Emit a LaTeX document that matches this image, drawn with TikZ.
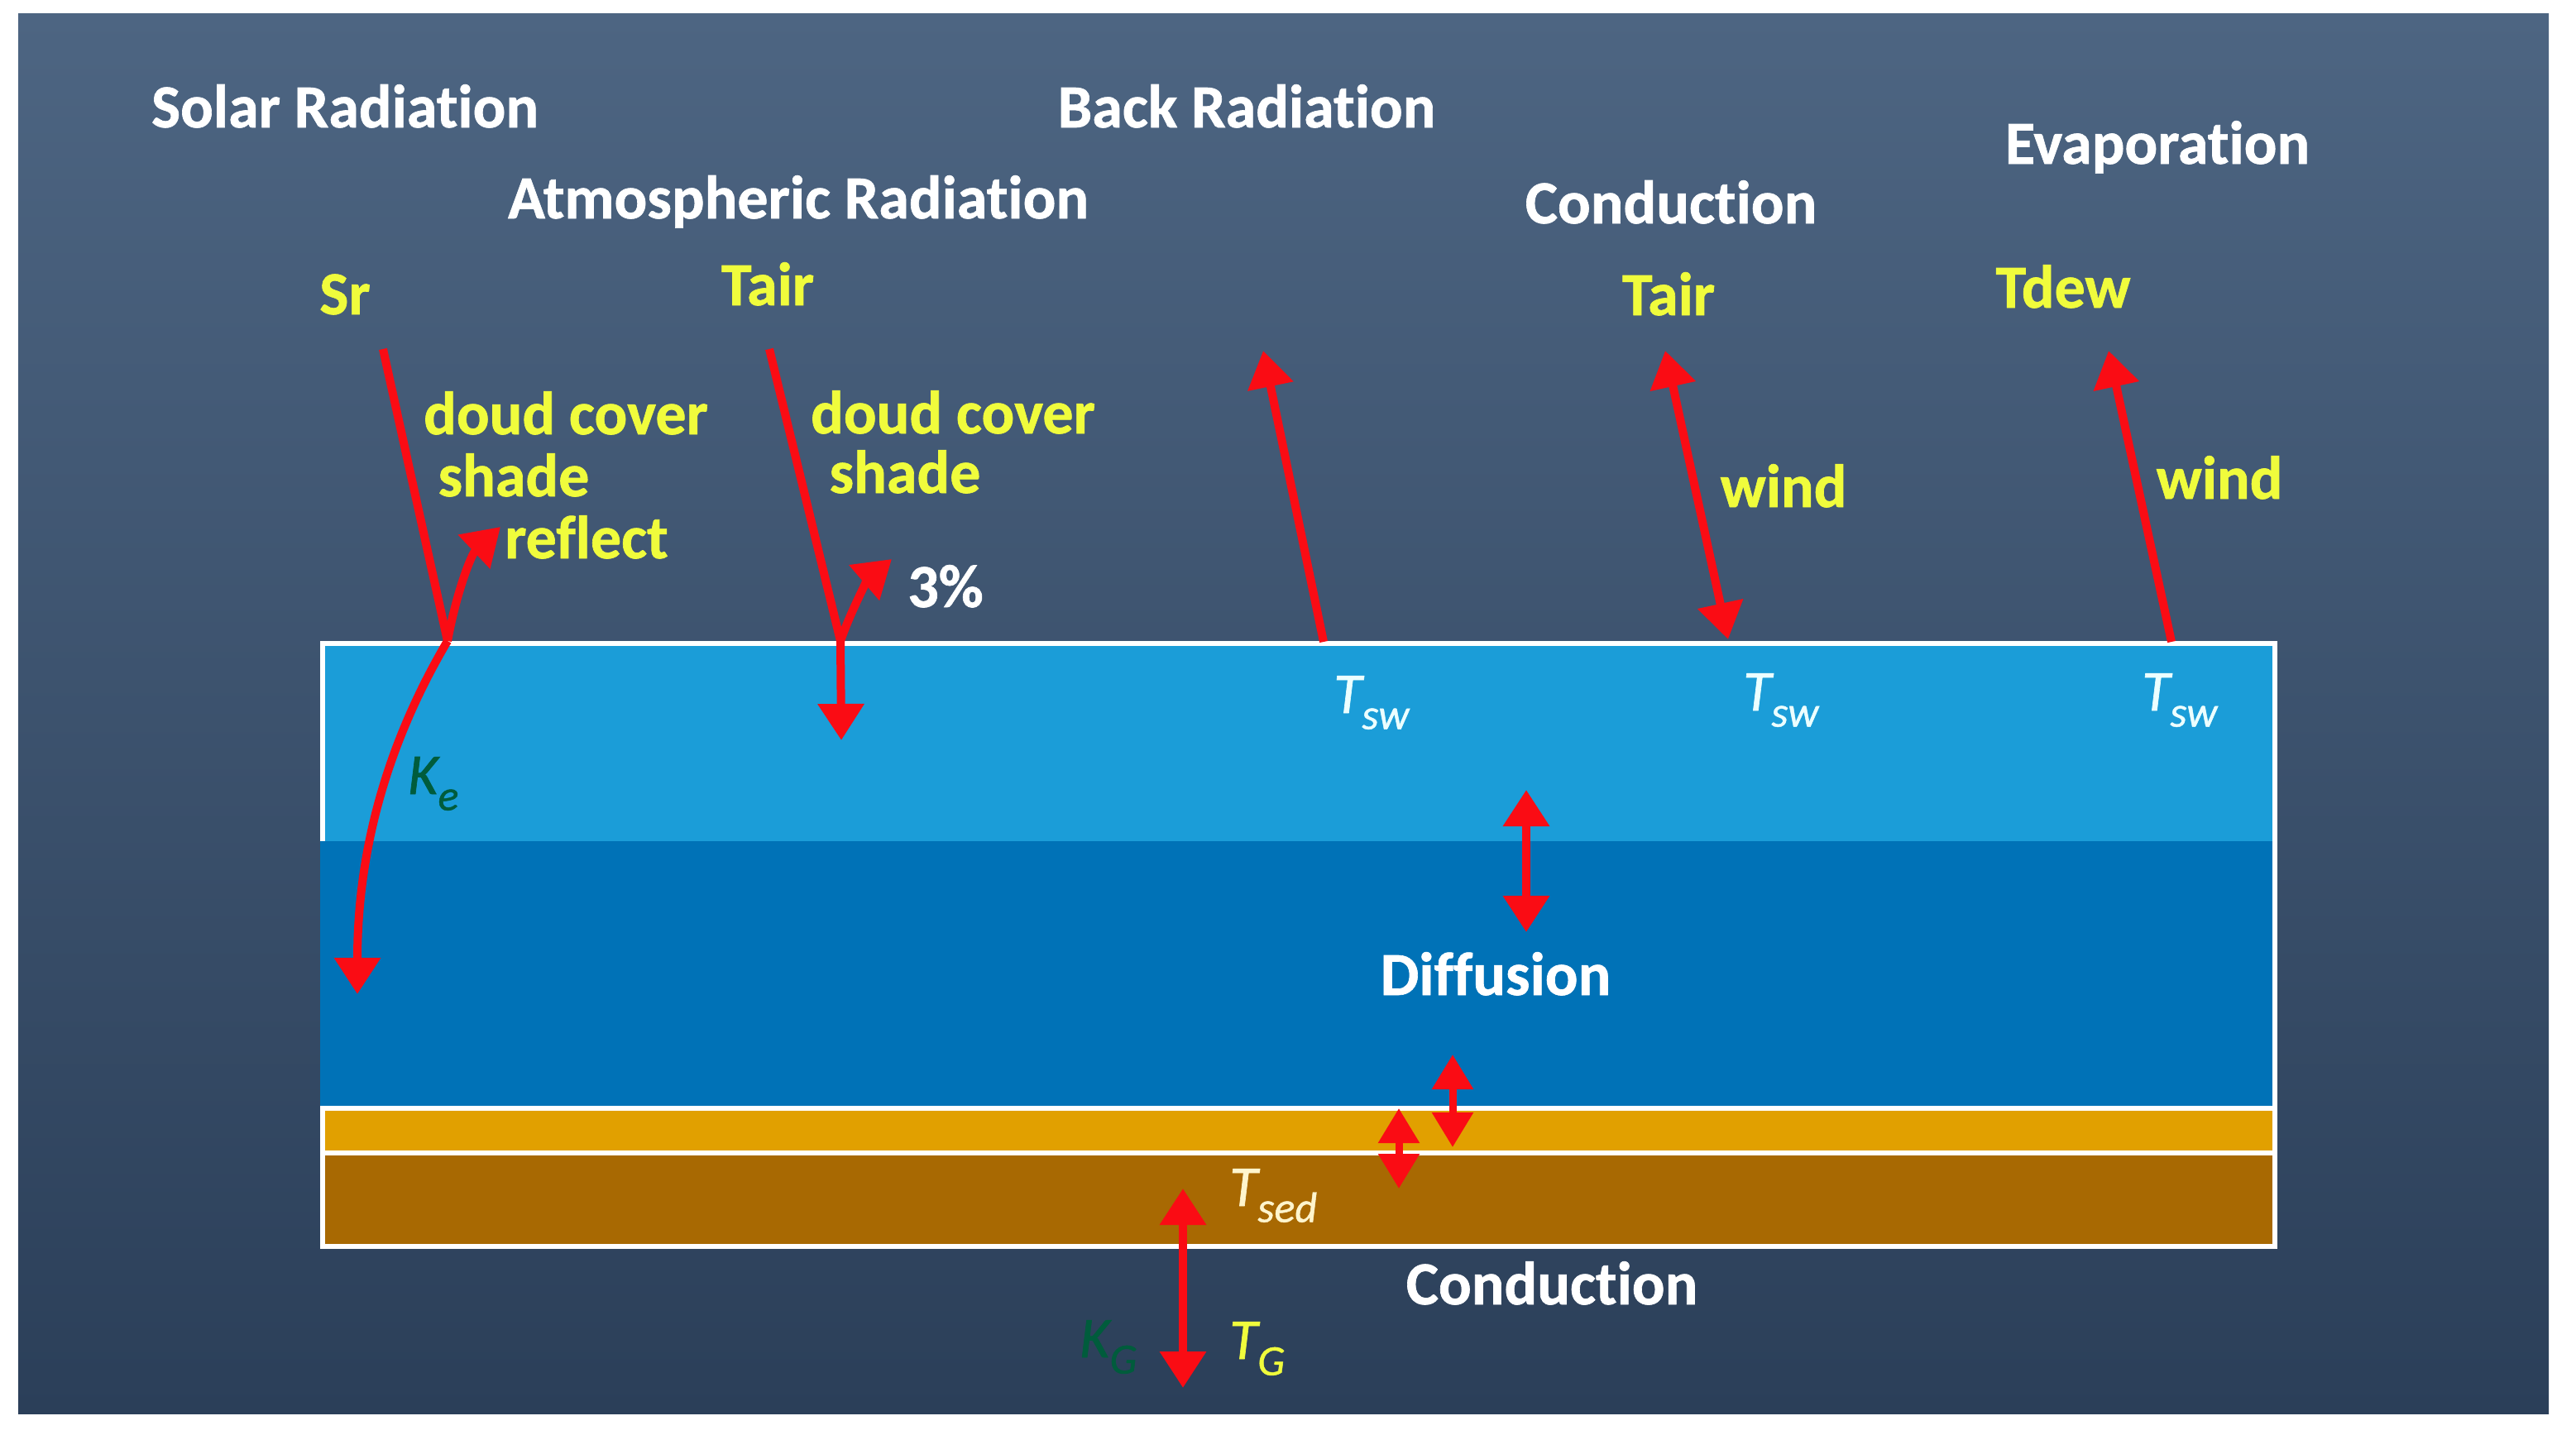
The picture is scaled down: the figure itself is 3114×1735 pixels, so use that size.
\documentclass[tikz,border=0pt]{standalone}
\usepackage{fontspec}
\setmainfont{Carlito}[Ligatures=CommonOff, FakeBold=0.9]
\usetikzlibrary{arrows.meta}
\definecolor{bgtop}{RGB}{77,101,130}
\definecolor{bgbot}{RGB}{43,63,89}
\definecolor{lblue}{RGB}{27,157,216}
\definecolor{dblue}{RGB}{0,114,183}
\definecolor{sandy}{RGB}{225,160,0}
\definecolor{sedbrown}{RGB}{168,105,2}
\definecolor{ylw}{RGB}{240,252,60}
\definecolor{arrred}{RGB}{250,12,20}
\definecolor{kgreen}{RGB}{0,92,60}
\definecolor{cream}{RGB}{255,245,205}
\definecolor{icewhite}{RGB}{236,255,255}
\newcommand{\mysubT}[2]{\itshape #1\raisebox{-0.28em}{\fontsize{52}{54}\selectfont #2}}
\begin{document}
\begin{tikzpicture}[x=1pt,y=-1pt,
  txt/.style={inner sep=0pt, anchor=base, font=\fontsize{74}{80}\selectfont\bfseries},
  wtxt/.style={txt, text=white},
  ytxt/.style={txt, text=ylw},
  sym/.style={inner sep=0pt, anchor=base west, font=\fontsize{70}{76}\selectfont},
  wline/.style={draw=white, line width=6pt},
  arr/.style={draw=arrred, line width=10pt, -{Triangle[length=44pt,width=54pt]}},
  darr/.style={draw=arrred, line width=10pt, {Triangle[length=44pt,width=54pt]}-{Triangle[length=44pt,width=54pt]}},
  sdarr/.style={draw=arrred, line width=9pt, {Triangle[length=42pt,width=48pt]}-{Triangle[length=42pt,width=48pt]}},
  plain/.style={draw=arrred, line width=10pt}]
\useasboundingbox (0,0) rectangle (3114,1735);
\fill[white] (0,0) rectangle (3114,1735);
\shade[top color=bgtop, bottom color=bgbot] (22,16) rectangle (3081,1709);

% layers
\fill[lblue] (387,775) rectangle (2752,1017);
\fill[dblue] (387,1017) rectangle (2752,1338);
\fill[sandy] (387,1340) rectangle (2752,1394);
\fill[sedbrown] (387,1394) rectangle (2752,1510);
\draw[wline] (390,1017) -- (390,778) -- (2750,778) -- (2750,1507) -- (390,1507) -- (390,1340) -- (2750,1340);
\draw[wline] (390,1394) -- (2750,1394);

% titles
\node[wtxt] (solar) at (417,154) {Solar Radiation};
\node[wtxt] (back) at (1507,154) {Back Radiation};
\node[wtxt] (atmo) at (965,264) {Atmospheric Radiation};
\node[wtxt] (condtop) at (2020,270) {Conduction};
\node[wtxt] (evap) at (2608,198) {Evaporation};
\node[wtxt] (diff) at (1808,1203) {Diffusion};
\node[wtxt] (condbot) at (1876,1577) {Conduction};

% yellow labels
\node[ytxt] (sr) at (417,380) {Sr};
\node[ytxt] (tair1) at (928,369) {Tair};
\node[ytxt] (tair2) at (2017,381) {Tair};
\node[ytxt] (tdew) at (2494,372) {Tdew};
\node[ytxt] (cc1) at (684,525) {doud cover};
\node[ytxt] (sh1) at (621,600) {shade};
\node[ytxt] (refl) at (709,675) {reflect};
\node[ytxt] (cc2) at (1152,524) {doud cover};
\node[ytxt] (sh2) at (1094,596) {shade};
\node[txt, text=white] (pct) at (1143,734) {3\%};
\node[ytxt] (wind1) at (2156,613) {wind};
\node[ytxt] (wind2) at (2683,603) {wind};

% symbols
\node[sym, text=icewhite] (tsw1) at (1612,862) {\mysubT{T}{sw}};
\node[sym, text=icewhite] (tsw2) at (2107,859) {\mysubT{T}{sw}};
\node[sym, text=icewhite] (tsw3) at (2589,859) {\mysubT{T}{sw}};
\node[sym, text=kgreen] (ke) at (493,960) {\mysubT{K}{e}};
\node[sym, text=cream] (tsed) at (1486,1458) {\mysubT{T}{sed}};
\node[sym, text=ylw] (tg) at (1486,1643) {\mysubT{T}{G}};
\node[sym, text=kgreen] (kg) at (1305,1641) {\mysubT{K}{G}};

% coordinates
\coordinate (sr0) at (463,422);
\coordinate (sj) at (541,775);
\coordinate (ke1) at (432,1202);
\coordinate (rf1) at (605,637);
\coordinate (ta0) at (930,422);
\coordinate (tj) at (1016,775);
\coordinate (td1) at (1017,895);
\coordinate (p1) at (1078,676);
\coordinate (br0) at (1600,776);
\coordinate (br1) at (1527,424);
\coordinate (cd0) at (2013,424);
\coordinate (cd1) at (2089,773);
\coordinate (ev0) at (2625,776);
\coordinate (ev1) at (2549,424);
\coordinate (df0) at (1845,955);
\coordinate (df1) at (1845,1127);
\coordinate (s10) at (1756,1275);
\coordinate (s11) at (1756,1387);
\coordinate (s20) at (1691,1340);
\coordinate (s21) at (1691,1437);
\coordinate (g0) at (1430,1437);
\coordinate (g1) at (1430,1678);

% arrows
\draw[plain] (sr0) -- (sj);
\draw[arr] (sj) .. controls (485,870) and (432,1000) .. (ke1);
\draw[arr] (sj) .. controls (552,715) and (570,670) .. (rf1);
\draw[plain] (ta0) -- (tj);
\draw[arr] (tj) -- (td1);
\draw[arr] (tj) .. controls (1030,735) and (1050,700) .. (p1);
\draw[arr] (br0) -- (br1);
\draw[darr] (cd0) -- (cd1);
\draw[arr] (ev0) -- (ev1);
\draw[darr] (df0) -- (df1);
\draw[sdarr] (s10) -- (s11);
\draw[sdarr] (s20) -- (s21);
\draw[darr] (g0) -- (g1);
\end{tikzpicture}
\end{document}
